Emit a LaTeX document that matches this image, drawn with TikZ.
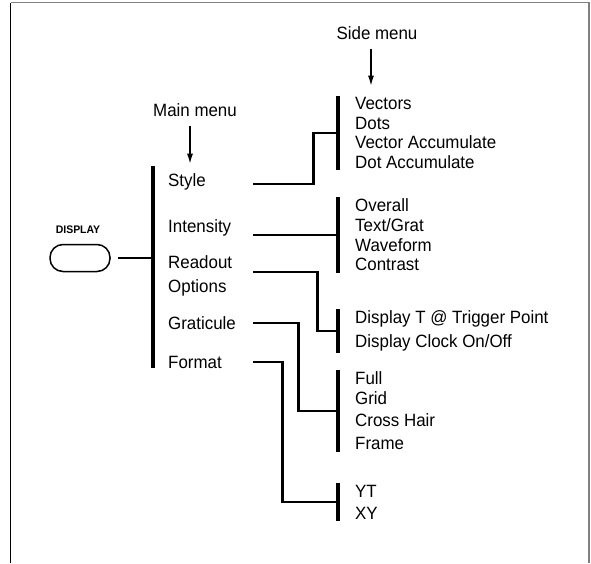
\documentclass[tikz,border=0pt]{standalone}
\usepackage{fontspec}
\setmainfont[FakeStretch=0.95]{Liberation Sans}
\usetikzlibrary{arrows.meta,positioning,calc}
\tikzset{
    mainitem/.style={anchor=west, inner sep=0pt, text width=85pt, align=left, font=\fontsize{17.8}{24}\selectfont},
    sidegroup/.style={anchor=west, inner xsep=17pt, inner ysep=1.5pt, align=left, font=\fontsize{17.8}{19.6}\selectfont},
    menulabel/.style={inner sep=0pt, font=\fontsize{17.8}{20}\selectfont},
    btnlabel/.style={inner sep=0pt, font=\fontsize{11}{13}\selectfont\bfseries},
    btn/.style={draw, line width=1.5pt, rounded corners=13pt, minimum width=60pt, minimum height=27pt},
    wire/.style={line width=2.8pt},
    bar/.style={line width=3.2pt},
    pointer/.style={-{Latex[length=10pt,width=6pt]}, line width=1.4pt},
}

\begin{document}
\begin{tikzpicture}[x=1pt, y=-1pt]
\useasboundingbox (0,0) rectangle (591,563);
\draw[line width=1.3pt] (10.5,563) -- (10.5,2.5);
\draw[gray, line width=1.5pt] (10.5,2.5) -- (589,2.5) -- (589,563);

% button
\node[btn] (display) at (80,258) {};
\node[btnlabel] (displbl) at (78,230) {DISPLAY};

% main menu
\node[menulabel] (mainlbl) at (195,110) {Main menu};
\coordinate (mtop) at (153,166);
\coordinate (mbot) at (153,368);
\node[mainitem] (style) at (168,182) {Style};
\node[mainitem] (intensity) at (168,228) {Intensity};
\node[mainitem] (readout) at (168,276) {Readout\\Options};
\node[mainitem] (graticule) at (168,323) {Graticule};
\node[mainitem] (format) at (168,362) {Format};

% side menu
\node[menulabel] (sidelbl) at (377,33) {Side menu};
\node[sidegroup] (side1) at (338,133) {Vectors\\Dots\\Vector Accumulate\\Dot Accumulate};
\node[sidegroup] (side2) at (338,235) {Overall\\Text/Grat\\Waveform\\Contrast};
\node[sidegroup] (side3) at (338,331) {Display T @ Trigger Point\\[4.4pt]Display Clock On/Off};
\node[sidegroup] (side4) at (338,411) {Full\\Grid\\[2.5pt]Cross Hair\\[3.5pt]Frame};
\node[sidegroup] (side5) at (338,502) {YT\\[2.4pt]XY};

\draw[pointer] ([xshift=-5pt,yshift=-9pt]mainlbl.south) -- ++(0,38);
\draw[pointer] ([xshift=-6pt,yshift=-9pt]sidelbl.south) -- ++(0,37);

\draw[bar] (mtop) -- (mbot);
\foreach \g in {1,...,5}
    \draw[bar] (side\g.north west) -- (side\g.south west);

\draw[wire, shorten <=7pt] (display.east) -- (display.east -| mtop);
\draw[wire] ([yshift=-2pt]style.east) -- ++(60,0) |- (side1.west);
\draw[wire] (intensity.east |- side2.west) -- (side2.west);
\draw[wire] ([yshift=4pt]readout.east) -- ++(64,0) |- (side3.west);
\draw[wire] (graticule.east) -- ++(45,0) |- (side4.west);
\draw[wire] (format.east) -- ++(29,0) |- (side5.west);
\end{tikzpicture}
\end{document}
